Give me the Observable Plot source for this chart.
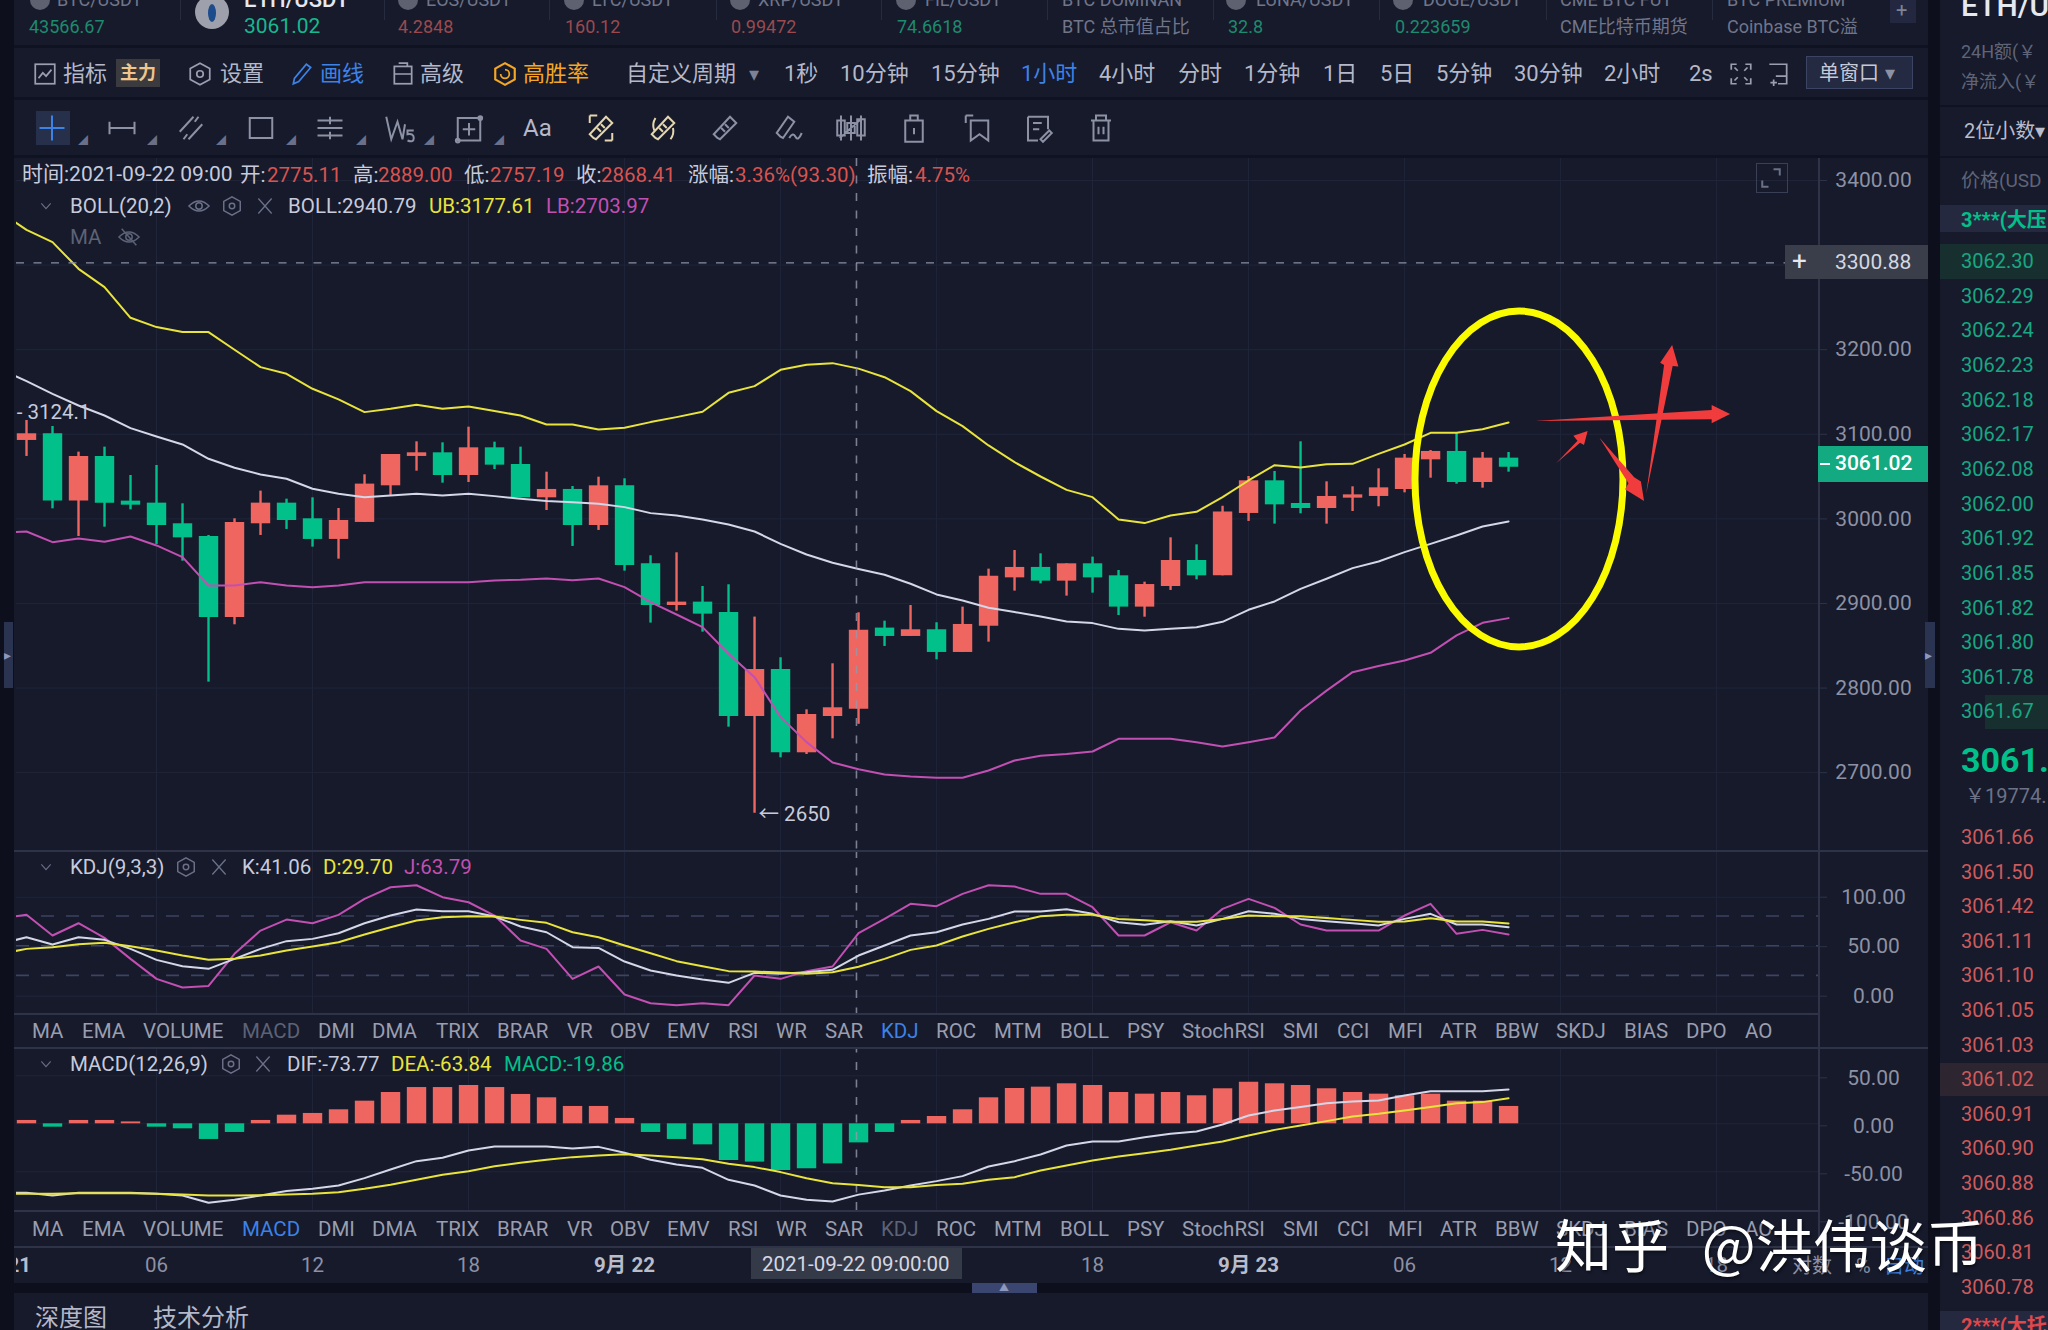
<!DOCTYPE html>
<html>
<head>
<meta charset="utf-8">
<script src="https://cdn.jsdelivr.net/npm/d3@7"></script>
<script src="https://cdn.jsdelivr.net/npm/@observablehq/plot@0.6"></script>
<style>
  html, body { margin: 0; background: #161a2b; }
  #app { position: relative; width: 2048px; height: 1330px; overflow: hidden; background: #161a2b;
         font-family: Roboto, "Noto Sans CJK SC", sans-serif; }
  #app > * { position: absolute; }
  .t { white-space: nowrap; transform: translateY(-50%); line-height: 1.2; }
  .box { box-sizing: border-box; }
  svg.ic { overflow: visible; fill: none; }
</style>
</head>
<body>
<div id="app"></div>
<script>
// ohlc, hourly, one entry per candle
const opens = [3092.7,3100.6,3021,3073.8,3021,3018.6,2994.2,2979.2,2883.5,2994.2,
  3018.6,3000.1,2975.7,2995.8,3039.1,3073.8,3078.1,3051.3,3084,3064.3,
  3024.9,3034.8,2992.2,3039.1,2946.9,2897.6,2901.6,2889.4,2766.4,2822,
  2723.5,2766.4,2775.11,2870.9,2861,2868.9,2842.1,2873.2,2930.3,2942.6,
  2926.4,2946.9,2932.7,2895.7,2920.1,2950.8,2932.7,3006.4,3045,3018.2,
  3012.3,3024.5,3026.5,3034.7,3069.8,3079.7,3043,3071.8];
const highs = [3116.3,3109.2,3078.9,3084.8,3051.3,3063.1,3017.8,2980.4,3000.1,3032.8,
  3023.3,3024.9,3012.3,3052.1,3076.1,3091.1,3089.9,3108.4,3090.7,3084.8,
  3055.2,3038.3,3049.3,3047.4,2956.4,2959.9,2920.1,2922.1,2883.9,2835.8,
  2774.3,2828.7,2889,2879.1,2897.6,2877.2,2895.7,2940.6,2962.6,2958.7,
  2946.9,2954.8,2939,2925.2,2977.6,2969.3,3014.9,3050.1,3056,3091.1,
  3043.8,3037.9,3059.2,3076.1,3080.8,3101.3,3078.5,3078.5];
const lows = [3073.8,3011.9,2979.2,2990.2,3010.7,2969.8,2950,2807,2874.8,2980.4,
  2987.5,2966.6,2952.4,2995.8,3027.7,3056.4,3042.2,3043,3058.4,3024.9,
  3009.9,2967.4,2986.3,2938.2,2876.8,2891,2866.1,2753.8,2652,2717.6,
  2721.5,2740,2757.19,2849.2,2861,2833.4,2842.1,2854.3,2914.6,2923.2,
  2908.7,2912.2,2885.8,2883.8,2915.4,2928,2932.7,2997,2993.8,3006,
  2993.8,3008.7,3014.3,3030.8,3048.1,3041,3036.3,3055.2];
const closes = [3100.6,3021,3073.8,3018.6,3016.2,2992.2,2977.6,2883.5,2995.8,3018.6,
  2998.1,2975.7,2998.1,3041.1,3076.1,3078.1,3051.3,3084,3063.5,3024.9,
  3034.8,2992.2,3039.1,2945,2897.6,2901.6,2887.4,2766.4,2822,2723.5,
  2768.8,2776.7,2868.41,2861,2868.9,2842.1,2875.2,2932.3,2942.6,2926.4,
  2946.9,2930.3,2895.7,2922.4,2950.8,2932.7,3008,3045,3016.6,3012.3,
  3026.5,3028.4,3036.7,3071.8,3079.7,3043,3071.8,3061.02];

// indicator lines start one candle before the first visible one (clipped at the left edge)
const ub = [3362.2,
  3341.7,3327.2,3295.6,3274,3237.7,3226.7,3220.8,3220.8,3199.9,3179.4,
  3171.5,3153.8,3141.2,3126.2,3130.1,3134.8,3130.1,3132.9,3127.4,3122.2,
  3111.6,3111.6,3105.7,3107.7,3114.4,3120.3,3126.6,3149,3156.9,3176.2,
  3182.1,3184.1,3177.61,3167.5,3151,3127.4,3109.6,3086.8,3067,3050.1,
  3034.3,3025.7,2999.3,2995,3004,3008.3,3025.7,3045.4,3063.5,3060.7,
  3064.7,3065.1,3076.9,3087.9,3101.7,3101.7,3106,3114];
const boll = [3176.6,
  3162.8,3147.8,3134,3122.2,3107.3,3097.4,3088,3071,3060.4,3052.5,
  3047.4,3035.6,3029.6,3025.7,3027.7,3029.6,3027.7,3029.6,3026.9,3023.7,
  3021,3019.8,3017.8,3013.9,3006.8,3004,2999.3,2993.4,2985.1,2970.5,
  2957.9,2948.1,2940.79,2933.9,2923.3,2910.7,2903.6,2894.9,2889.8,2884.6,
  2878.7,2876.8,2870,2868,2870,2872,2878.3,2892.5,2902.4,2917.3,
  2929.2,2941.8,2949.6,2960.7,2970.5,2980.4,2991,2997];
const lb = [2983.9,
  2985.1,2972.5,2976.8,2972.9,2979.2,2968.6,2954.8,2921.3,2921.3,2925.2,
  2921.3,2919.3,2921.3,2925.2,2925.2,2925.2,2925.2,2925.2,2927.2,2928,
  2929.6,2927.6,2929.6,2919.3,2901.6,2887,2872,2840.5,2812.9,2765.7,
  2736.1,2712.1,2703.97,2697.9,2695.5,2694,2694,2702.6,2714.4,2720,
  2722,2725,2740,2740,2740,2736,2731,2736,2741.6,2773.5,
  2797,2818.8,2826,2832.6,2841.7,2862.2,2877.1,2882.7];

const kdjK = [52.9,
  59.6,52.2,59.6,56.9,47.8,36.7,30.3,27.6,37.7,47.8,
  55.6,57.9,63.6,73.7,81.5,87.5,85.9,85.9,80.5,70.4,
  64.6,49.5,48.8,35,25.9,20.9,16.8,13.5,23.6,22.6,
  24.2,26.6,41.06,51.2,61.3,64.6,72.4,78.1,85.5,85.5,
  87.9,83.2,74.7,72.1,75.8,71.4,78.1,85.9,83.2,78.1,
  75.8,73.7,71.4,78.1,83.2,72.4,72.4,69.7];
const kdjD = [42.8,
  47.8,49.5,52.5,53.9,50.5,46.1,41.1,36.7,37.7,41.1,
  46.1,50.2,54.5,62.3,69.7,76.4,79.8,80.8,80.5,77.1,
  74.1,64.6,59.6,51.2,43.4,35.4,30.3,25.3,24.9,23.9,
  22.6,24.2,29.7,37.7,46.8,51.2,60.3,68,74.7,80.8,
  82.2,82.2,78.1,76.8,75.1,75.1,78.1,81.5,80.8,80.8,
  79.1,77.1,75.1,75.4,78.8,75.4,75.4,73.4];
const kdjJ = [78.5,
  82.2,61.3,73.7,58.9,37.7,17.5,8.8,10.4,42.8,66.3,
  77.4,73.7,82.2,98.3,110.1,112.1,100,94.9,81.5,56.2,
  47.8,17.5,30,1.7,-7.1,-9.1,-7.1,-9.1,20.9,17.5,
  25.3,30,63.79,78.1,93.3,90.9,103.4,112.1,110.8,103.4,
  103.4,89.9,61.3,61.3,74.7,66.3,88.2,98.3,89.2,72.4,
  66.3,66.3,66.3,81.5,93.3,63,67,62.3];

const macdBars = [3.5,-3.5,3.5,3.5,2,-3.5,-5.2,-16.3,-9,3.5,
  9,10.8,14.6,23.6,32.6,37.8,37.8,39.9,37.8,30.6,
  27.1,18.1,18.1,5.6,-9,-16.3,-21.9,-38.2,-39.9,-48.6,
  -46.9,-41.7,-19.86,-9,3.5,7.6,14.6,27.1,36.8,38.2,
  41.7,39.9,32.6,30.9,32.6,29.2,36.5,43.4,41.7,39.9,
  36.5,32.6,30.9,29.2,30.9,23.6,23.6,18.1];
const dif = [-71.9,
  -71.9,-74.7,-71.9,-71.9,-71.9,-72.9,-74.7,-82.3,-79.2,-74.7,
  -70.1,-67.7,-64.2,-56.6,-47.6,-38.9,-35.4,-27.8,-23.6,-23.6,
  -23.6,-25.7,-24,-30.2,-37.5,-42.4,-45.8,-58.3,-64.2,-74.7,
  -79.2,-80.9,-73.77,-69.4,-64.2,-59.7,-54.5,-44.4,-38.9,-31.9,
  -22.6,-18.4,-18.4,-13.9,-10.4,-8,-0.7,8.7,13.9,17.4,
  21.5,23.3,24.3,29.5,34,34,34,35.8];
const dea = [-72.9,
  -72.9,-72.9,-72.2,-72.2,-72.2,-72.9,-73.6,-74.7,-74.7,-74.3,
  -73.6,-72.9,-71.2,-67.7,-63.5,-58.3,-53.1,-49.3,-44.1,-40.6,
  -37.5,-34.7,-33,-31.6,-33,-34.7,-36.8,-41.7,-45.1,-50.3,
  -56.6,-61.8,-63.84,-66,-66,-63.84,-62.5,-58.3,-55.6,-48.6,
  -43.4,-38.2,-34,-30.6,-27.1,-22.6,-18.4,-12.2,-6.3,-1.7,
  2.8,7.6,10.4,13.9,17.4,21.5,22.6,26.7];

const priceTicks = [3400,3200,3100,3000,2900,2800,2700];
const priceGrid = [3400,3300,3200,3100,3000,2900,2800,2700];
const kdjTicks = [100,50,0];
const kdjLevels = [80,50,20];
const macdTicks = [50,0,-50,-100];
const gridCandles = [5,11,17,23,29,35,41,47,53,59,65];
const hourTicks = [5,11,17,41,53,59,65];
const hourLabels = ["06","12","18","18","06","12","18"];
const dayTicks = [-1,23,47];
const dayLabels = ["9月 21","9月 22","9月 23"];
const crosshairCandle = 31.92, crosshairPrice = 3300.88;

// hand-drawn marks on the screenshot, in candle / price units
const circle = {i: 57.42, price: 3046.6, ri: 4, rprice: 198.6};
const arrows = [
  [[58.01,3115.2],[64.83,3128.2],[64.83,3134.1],[65.54,3123.4],[64.83,3112.4],[64.83,3117.1]],
  [[62.31,3028.9],[63.0,3181.4],[62.85,3184.1],[63.31,3205],[63.55,3179.4],[63.33,3180.2]],
  [[58.85,3065.1],[59.67,3091.9],[59.51,3097.8],[60.06,3103.3],[59.92,3086.8],[59.77,3089.5]],
  [[60.51,3095.5],[61.85,3048.6],[62.11,3043.5],[62.23,3020.6],[61.5,3034.4],[61.63,3041.5]]
];

const tabNames = ["MA","EMA","VOLUME","MACD","DMI","DMA","TRIX","BRAR","VR","OBV","EMV","RSI","WR","SAR","KDJ","ROC","MTM","BOLL","PSY","StochRSI","SMI","CCI","MFI","ATR","BBW","SKDJ","BIAS","DPO","AO"];
const tabLeft = [32,82,143,242,318,372,436,497,567,610,667,728,776,825,881,936,994,1060,1127,1182,1283,1337,1388,1440,1495,1556,1624,1686,1745];
const askPrices = ["3062.30","3062.29","3062.24","3062.23","3062.18","3062.17","3062.08","3062.00","3061.92","3061.85","3061.82","3061.80","3061.78","3061.67"];
const bidPrices = ["3061.66","3061.50","3061.42","3061.11","3061.10","3061.05","3061.03","3061.02","3060.91","3060.90","3060.88","3060.86","3060.81","3060.78"];

const RED = "#ef6660", GREEN = "#02c08a", YELLOW = "#e9e43c", WHITE = "#d4d7e8", MAGENTA = "#c24fb2";
const GRID = "#20253a", AXIS = "#8d91a4", TEXT = "#b4b8c9", DIM = "#5d6276", LINE = "#2e3348", BLUE = "#3d82e6";

const app = document.getElementById("app");

function box(x, y, w, h, bg, css = "") {
  const d = document.createElement("div");
  d.className = "box";
  d.style.cssText = `left:${x}px;top:${y}px;width:${w}px;height:${h}px;background:${bg};${css}`;
  app.append(d);
}
function label(text, x, y, color = TEXT, size = 20.5, css = "") {
  const d = document.createElement("div");
  d.className = "t";
  d.textContent = text;
  d.style.cssText = `left:${x}px;top:${y}px;color:${color};font-size:${size}px;${css}`;
  app.append(d);
}
function icon(cx, cy, inner, color = "#8d91a4", s = 26) {
  const d = document.createElement("div");
  d.style.cssText = `left:${cx - s / 2}px;top:${cy - s / 2}px;width:${s}px;height:${s}px;`;
  d.innerHTML = `<svg class="ic" width="${s}" height="${s}" viewBox="0 0 24 24" stroke="${color}" stroke-width="1.6">${inner}</svg>`;
  app.append(d);
}

const hexIcon = '<path d="M12 2 L21 7 V17 L12 22 L3 17 V7 Z"/><circle cx="12" cy="12" r="3"/>';
const xIcon = '<path d="M4 3 L20 21 M20 3 L4 21"/>';
const eyeIcon = '<path d="M1 12 Q12 1 23 12 Q12 23 1 12 Z"/><circle cx="12" cy="12" r="3.5"/>';
const chevron = '<path d="M5 8 L12 16 L19 8"/>';

// ---- backgrounds
box(0, 0, 14, 1330, "#0d101c");
box(1928, 0, 12, 1330, "#0d101c");
box(14, 45, 1914, 3, "#0f1220");
box(14, 97, 1914, 3, "#0f1220");
box(14, 155, 1914, 3, "#0f1220");
box(1940, 105, 108, 2, "#0f1220");
box(1940, 156, 108, 2, "#0f1220");

// ---- plots
const W = 1930, ML = 16, MR = 112, X_DOMAIN = [-0.385, 68.92];
const candles = opens.map((o, i) => ({i, o, h: highs[i], l: lows[i], c: closes[i], color: closes[i] >= o ? RED : GREEN}));
const lineRows = ub.map((v, k) => ({
  i: k - 1, ub: v, boll: boll[k], lb: lb[k],
  k: kdjK[k], d: kdjD[k], j: kdjJ[k], dif: dif[k], dea: dea[k]
}));
const bars = macdBars.map((v, i) => ({i, v, color: v >= 0 ? RED : GREEN}));

const base = {
  width: W, marginLeft: ML, marginRight: MR, marginTop: 0, marginBottom: 0,
  x: {domain: X_DOMAIN, axis: null},
  style: {background: "transparent", color: AXIS, fontSize: "21px", fontFamily: 'Roboto, "Noto Sans CJK SC", sans-serif'}
};
const yAxis = (ticks, dy = 0) => Plot.axisY(ticks, {anchor: "right", tickSize: 8, tickPadding: 47, textAnchor: "middle", tickFormat: d => d.toFixed(2), stroke: LINE, fill: AXIS, dy});
const xGrid = () => Plot.gridX(gridCandles, {stroke: GRID, strokeOpacity: 1});
const dashed = "8,9.5";

const drawCircle = (index, {x, y}) => d3.create("svg:ellipse")
  .attr("cx", x(circle.i)).attr("cy", y(circle.price))
  .attr("rx", x(circle.i + circle.ri) - x(circle.i))
  .attr("ry", y(circle.price - circle.rprice) - y(circle.price))
  .attr("fill", "none").attr("stroke", "#fbfb00").attr("stroke-width", 7).node();
const drawArrows = (index, {x, y}) => {
  const g = d3.create("svg:g").attr("fill", "#f03c3c");
  arrows.forEach(a => g.append("polygon").attr("points", a.map(p => [x(p[0]), y(p[1])].join(",")).join(" ")));
  return g.node();
};

const mainChart = Plot.plot({
  ...base, height: 692,
  y: {domain: [2608, 3426], axis: null},
  marks: [
    xGrid(),
    Plot.gridY(priceGrid, {stroke: GRID, strokeOpacity: 1}),
    yAxis(priceTicks),
    Plot.ruleX(candles, {x: "i", y1: "l", y2: "h", stroke: "color", strokeWidth: 2.4}),
    Plot.ruleX(candles, {x: "i", y1: "o", y2: "c", stroke: "color", strokeWidth: 19.4}),
    Plot.line(lineRows, {x: "i", y: "ub", stroke: YELLOW, strokeWidth: 2, curve: "linear", clip: true}),
    Plot.line(lineRows, {x: "i", y: "boll", stroke: WHITE, strokeWidth: 2, curve: "linear", clip: true}),
    Plot.line(lineRows, {x: "i", y: "lb", stroke: MAGENTA, strokeWidth: 2, curve: "linear", clip: true}),
    Plot.ruleY([crosshairPrice], {stroke: "#8a8ea1", strokeDasharray: dashed, strokeWidth: 1.4, dy: -1.5}),
    Plot.ruleX([crosshairCandle], {stroke: "#9599ab", strokeDasharray: dashed, strokeWidth: 1.6, strokeOpacity: 0.8}),
    Plot.text([{i: -0.38, p: 3124.1, s: "- 3124.1"}], {x: "i", y: "p", text: "s", textAnchor: "start", fill: "#c8cbdc", fontSize: 20.5, dy: -1}),
    Plot.text([{i: 28, p: 2650, s: "← 2650"}], {x: "i", y: "p", text: "s", textAnchor: "start", dx: 4, dy: -1, fill: "#c8cbdc", fontSize: 20.5}),
    drawCircle,
    drawArrows
  ]
});
const kdjChart = Plot.plot({
  ...base, height: 163,
  y: {domain: [-17.5, 147.2], axis: null},
  marks: [
    xGrid(),
    Plot.gridY(kdjTicks, {stroke: GRID, strokeOpacity: 1}),
    yAxis(kdjTicks),
    Plot.ruleY(kdjLevels, {stroke: "#3d4362", strokeDasharray: "13,12", strokeWidth: 1.6, dy: -1}),
    Plot.ruleX([crosshairCandle], {stroke: "#9599ab", strokeDasharray: dashed, strokeWidth: 1.6, strokeOpacity: 0.8}),
    Plot.line(lineRows, {x: "i", y: "j", stroke: MAGENTA, strokeWidth: 2, clip: true}),
    Plot.line(lineRows, {x: "i", y: "k", stroke: WHITE, strokeWidth: 2, clip: true}),
    Plot.line(lineRows, {x: "i", y: "d", stroke: YELLOW, strokeWidth: 2, clip: true})
  ]
});
const macdChart = Plot.plot({
  ...base, height: 199,
  y: {domain: [-127.8, 79.5], axis: null},
  marks: [
    Plot.gridX(gridCandles, {y1: -90.3, y2: 79.5, stroke: GRID, strokeOpacity: 1}),
    Plot.gridY([50, 0, -50], {stroke: GRID, strokeOpacity: 1}),
    yAxis(macdTicks, 2),
    Plot.ruleX(bars, {x: "i", y1: 0, y2: "v", stroke: "color", strokeWidth: 19.4}),
    Plot.ruleX([crosshairCandle], {y1: -90.3, y2: 79.5, stroke: "#9599ab", strokeDasharray: dashed, strokeWidth: 1.6, strokeOpacity: 0.8}),
    Plot.line(lineRows, {x: "i", y: "dif", stroke: WHITE, strokeWidth: 2, clip: true}),
    Plot.line(lineRows, {x: "i", y: "dea", stroke: YELLOW, strokeWidth: 2, clip: true})
  ]
});
const timeAxis = Plot.plot({
  ...base, height: 37,
  marks: [
    Plot.text(hourTicks, {x: d => d, text: (d, k) => hourLabels[k], frameAnchor: "middle", fill: AXIS, fontSize: 20.5, clip: true}),
    Plot.text(dayTicks, {x: d => d, text: (d, k) => dayLabels[k], frameAnchor: "middle", fill: "#b9bccb", fontWeight: 700, fontSize: 20.5, clip: true})
  ]
});
[[mainChart, 158], [kdjChart, 850], [macdChart, 1047], [timeAxis, 1246]].forEach(([chart, top]) => {
  chart.style.left = "0px";
  chart.style.top = top + "px";
  app.append(chart);
});

// ---- panel lines
box(1818, 158, 1.5, 1088, LINE);
box(14, 850, 1914, 1.5, LINE);
box(14, 1013, 1804, 1.5, LINE);
box(14, 1047, 1914, 1.5, LINE);
box(14, 1210, 1804, 1.5, LINE);
box(14, 1246, 1914, 1.5, LINE);
box(14, 1283, 1914, 10, "#0d101c");

// ---- ticker row
const ticker = [
  ["BTC/USDT", 57, "43566.67", 29, "#1e8a6e", 40],
  ["EOS/USDT", 426, "4.2848", 398, "#9a4a4e", 408],
  ["LTC/USDT", 592, "160.12", 565, "#9a4a4e", 574],
  ["XRP/USDT", 758, "0.99472", 731, "#9a4a4e", 740],
  ["FIL/USDT", 925, "74.6618", 897, "#1e8a6e", 906],
  ["LUNA/USDT", 1256, "32.8", 1228, "#1e8a6e", 1236],
  ["DOGE/USDT", 1423, "0.223659", 1395, "#1e8a6e", 1403]
];
ticker.forEach(([name, nx, val, vx, color, lx]) => {
  box(lx - 10, -10, 20, 20, "#5d6170", "border-radius:50%;");
  label(name, nx, 0, "#70758a", 18);
  label(val, vx, 27, color, 18);
});
[["BTC DOMINAN", "BTC 总市值占比", 1062], ["CME BTC FUT", "CME比特币期货", 1560], ["BTC PREMIUM", "Coinbase BTC溢", 1727]].forEach(([a, b, x]) => {
  label(a, x, 0, "#70758a", 18);
  label(b, x, 27, "#70758a", 18);
});
[180, 384, 549, 716, 881, 1047, 1213, 1379, 1546, 1712].forEach(x => box(x, 0, 1, 20, "#262b3e"));
box(195, -5, 34, 34, "#9ea1ab", "border-radius:50%;");
box(208, 4, 8, 18, "#1d4c8c", "border-radius:50%;");
label("ETH/USDT", 244, 0, "#e6e8f0", 22, "font-weight:500;");
label("3061.02", 244, 27, "#17b890", 21);
box(1890, -2, 26, 25, "#232840");
label("+", 1896, 10, "#7d8296", 20);

// ---- period row
const rowY = 74;
icon(45, rowY, '<rect x="3" y="3" width="18" height="18"/><path d="M6 16 L10 11 L13 14 L18 8"/>', "#9a9eb0");
label("指标", 63, rowY, TEXT, 22);
box(116, 59, 44, 28, "#3b3b3f");
label("主力", 120, rowY - 1, "#f2c58a", 18, "font-weight:700;");
icon(200, rowY, hexIcon, "#9a9eb0");
label("设置", 220, rowY, TEXT, 22);
icon(302, rowY, '<path d="M4 21 L5 16 L16 3 L20 6 L9 19 Z"/>', BLUE);
label("画线", 320, rowY, BLUE, 22);
icon(403, rowY, '<rect x="4" y="5" width="16" height="16"/><path d="M8 2 H16 V5 M4 12 H20"/>', "#9a9eb0");
label("高级", 420, rowY, TEXT, 22);
icon(505, rowY, '<path d="M12 2 L21 7 V17 L12 22 L3 17 V7 Z" stroke-width="2"/><path d="M8 12 A4 4 0 1 0 12 8" />', "#f5a623");
label("高胜率", 523, rowY, "#f5a623", 22);
label("自定义周期", 626, rowY, TEXT, 22);
label("▾", 749, rowY, "#7d8296", 20);
[["1秒", 784], ["10分钟", 840], ["15分钟", 931], ["1小时", 1021, BLUE], ["4小时", 1099], ["分时", 1178], ["1分钟", 1244], ["1日", 1323], ["5日", 1380], ["5分钟", 1436], ["30分钟", 1514], ["2小时", 1604], ["2s", 1689]]
  .forEach(([s, x, c]) => label(s, x, rowY, c || TEXT, 22));
icon(1741, rowY, '<path d="M3 8 V3 H8 M16 3 H21 V8 M21 16 V21 H16 M8 21 H3 V16 M6 6 L9 9 M18 6 L15 9 M6 18 L9 15 M18 18 L15 15"/>', "#9a9eb0");
icon(1778, rowY, '<path d="M4 3 H20 V21 H12 M20 14 H10 M8 17 V23 M5 20 H11"/>', "#9a9eb0");
box(1806, 56, 107, 33, "#232a41", "border:1.5px solid #3b4463;");
label("单窗口", 1819, 73, "#c6c9d8", 20);
label("▾", 1885, 73, "#8d91a4", 20);

// ---- drawing tools row
const toolY = 128;
box(36, 111, 34, 34, "#27304a");
const toolIcons = [
  [52, '<path d="M12 2 V22 M2 12 H22"/>', BLUE],
  [122, '<path d="M2 7 V17 M22 7 V17 M2 12 H22"/>'],
  [191, '<path d="M3 15 L14 3 M10 21 L21 9 M6 21 L9 17 M15 7 L18 3"/>'],
  [261, '<rect x="3" y="4" width="18" height="16"/>'],
  [330, '<path d="M2 6 H22 M2 12 H22 M2 18 H22 M12 3 V9 M12 15 V21"/>'],
  [400, '<path d="M1 3 L5 21 L10 7 L14 21 L16 9"/><path d="M23 14 H18 L18 17 Q23 16 23 20 Q23 24 18 22"/>'],
  [469, '<rect x="3" y="4" width="18" height="18"/><path d="M12 8 V18 M7 13 H17"/><circle cx="21" cy="4" r="1.5"/><circle cx="3" cy="22" r="1.5"/>'],
  [601, '<path d="M6 20 L3 17 L16 3 L21 8 L8 21 Z M9 12 L12 15 M12 9 L15 12 M3 2 H9 M3 2 V8 M21 22 H15 M21 22 V16"/>', "#e4d6ae"],
  [663, '<path d="M6 20 L3 17 L16 3 L21 8 L8 21 Z M9 12 L12 15 M12 9 L15 12"/><path d="M6 4 A11 11 0 0 0 5 14 M18 21 A11 11 0 0 0 20 12"/>', "#e4d6ae"],
  [725, '<path d="M6 20 L3 17 L16 3 L21 8 L8 21 Z M9 12 L12 15 M12 9 L15 12"/>'],
  [788, '<path d="M6 19 L3 16 L12 3 L17 7 L8 20 Z M13 20 Q16 15 18 19 T23 16"/>'],
  [851, '<path d="M4 2 V22 M12 2 V22 M20 2 V22 M1 6 H7 V18 H1 Z M9 8 H15 V16 H9 Z M17 5 H23 V18 H17 Z M3 20 L21 4"/>'],
  [914, '<rect x="5" y="6" width="14" height="17"/><path d="M9 6 V2 H15 V6 M12 12 V17"/>'],
  [977, '<path d="M3 2 H9 M3 2 V8"/><path d="M7 6 H21 V22 L14 17 L7 22 Z"/>'],
  [1038, '<path d="M4 3 H20 V13 M4 3 V22 H12 M8 8 H15 M8 13 H13 M14 21 L21 14 L23 16 L16 23 Z"/>'],
  [1101, '<path d="M4 6 H20 M8 6 V2 H16 V6 M6 6 V22 H18 V6 M10 11 V17 M14 11 V17"/>']
];
toolIcons.forEach(([x, inner, c]) => icon(x, toolY, inner, c || "#8d91a4", 30));
label("Aa", 523, toolY, TEXT, 24);
[82, 151, 220, 290, 360, 428, 498].forEach(x => label("◢", x - 4, toolY + 13, "#6b7088", 10));

// ---- legends
const hy = 175;
label("时间:2021-09-22 09:00", 22, hy, "#c8cbdc", 21);
[["开:", 240, "2775.11", 267], ["高:", 353, "2889.00", 378], ["低:", 464, "2757.19", 490], ["收:", 576, "2868.41", 601],
 ["涨幅:", 688, "3.36%(93.30)", 735], ["振幅:", 867, "4.75%", 915]].forEach(([a, ax, b, bx]) => {
  label(a, ax, hy, "#c8cbdc");
  label(b, bx, hy, "#d9534f");
});
icon(46, 206, chevron, "#6b7088", 16);
label("BOLL(20,2)", 70, 206, "#c8cbdc");
icon(199, 206, eyeIcon, "#6b7088", 22);
icon(232, 206, hexIcon, "#6b7088", 22);
icon(265, 206, xIcon, "#6b7088", 20);
label("BOLL:2940.79", 288, 206, "#c8cbdc");
label("UB:3177.61", 429, 206, YELLOW);
label("LB:2703.97", 546, 206, MAGENTA);
label("MA", 70, 237, DIM);
icon(129, 237, eyeIcon + '<path d="M4 3 L20 21"/>', DIM, 22);
icon(1771, 178, '<path d="M14 5 H19 V10 M10 19 H5 V14"/>', "#6b7088", 30);
box(1756, 163, 32, 30, "transparent", "border:1px solid #3a3f55;");

icon(46, 867, chevron, "#6b7088", 16);
label("KDJ(9,3,3)", 70, 867, "#c8cbdc");
icon(186, 867, hexIcon, "#6b7088", 22);
icon(219, 867, xIcon, "#6b7088", 20);
label("K:41.06", 242, 867, "#c8cbdc");
label("D:29.70", 323, 867, YELLOW);
label("J:63.79", 404, 867, MAGENTA);

icon(46, 1064, chevron, "#6b7088", 16);
label("MACD(12,26,9)", 70, 1064, "#c8cbdc");
icon(231, 1064, hexIcon, "#6b7088", 22);
icon(263, 1064, xIcon, "#6b7088", 20);
label("DIF:-73.77", 287, 1064, "#c8cbdc");
label("DEA:-63.84", 391, 1064, YELLOW);
label("MACD:-19.86", 504, 1064, GREEN);

// ---- indicator tabs
tabNames.forEach((name, k) => {
  const top = name === "KDJ" ? BLUE : name === "MACD" ? DIM : "#9a9eb0";
  const bottom = name === "MACD" ? BLUE : name === "KDJ" ? DIM : "#9a9eb0";
  label(name, tabLeft[k], 1031, top);
  label(name, tabLeft[k], 1229, bottom);
});

// ---- price tags
box(1785, 245, 143, 34, "#3a3e4b");
label("+", 1792, 262, "#e6e8f0", 26);
label("3300.88", 1835, 263, "#d5d7e2", 21);
box(1818, 446, 110, 36, "#13a981");
box(1820, 463, 10, 2, "#ffffff");
label("3061.02", 1835, 464, "#ffffff", 21, "font-weight:500;");

// ---- time row extras
box(751, 1248, 211, 31, "#353a48");
label("2021-09-22 09:00:00", 762, 1264, "#d5d7e2");
label("对数", 1792, 1266, "#8d91a4", 20);
label("%", 1856, 1266, "#8d91a4", 20);
label("自动", 1884, 1266, BLUE, 20);
box(972, 1283, 65, 10, "#3a4670");
label("▲", 999, 1288, "#8d98bd", 10);
box(4, 622, 9, 66, "#2a3350");
label("▸", 4, 655, "#8d98bd", 14);
box(1925, 622, 10, 66, "#2a3350");
label("▸", 1925, 655, "#8d98bd", 14);
label("深度图", 35, 1318, TEXT, 24);
label("技术分析", 153, 1318, TEXT, 24);

// ---- order book column
label("ETH/USDT", 1961, 6, "#e6e8f0", 30, "font-weight:500;");
label("24H额(￥", 1961, 52, "#5f6478", 18);
label("净流入(￥", 1961, 82, "#5f6478", 18);
label("2位小数▾", 1964, 131, "#b9bccb", 20);
label("价格(USD", 1961, 181, "#5f6478", 19);
box(1940, 205, 108, 27, "#25293f");
label("3***(大压", 1961, 220, GREEN, 20, "font-weight:700;");
box(1940, 244, 108, 35, "#17302f");
box(1985, 695, 63, 34, "#17302f");
askPrices.forEach((p, k) => label(p, 1961, 261 + 34.65 * k, "#17a883", 20));
label("3061.02", 1961, 760, GREEN, 34, "font-weight:700;");
label("￥19774.12", 1965, 796, "#6d7286", 20);
box(1940, 1063, 108, 33, "#2d2530");
bidPrices.forEach((p, k) => label(p, 1961, 837 + 34.6 * k, "#cf5a5c", 20));
box(1940, 1311, 108, 19, "#25293f");
label("2***(大托", 1961, 1326, "#e0484c", 20, "font-weight:700;");

// ---- watermark
label("知乎 @洪伟谈币", 1555, 1242, "#ffffff", 57, 'font-family:"Noto Sans CJK SC";font-weight:400;word-spacing:20px;text-shadow:1px 2px 3px rgba(0,0,0,.45);');
</script>
</body>
</html>
